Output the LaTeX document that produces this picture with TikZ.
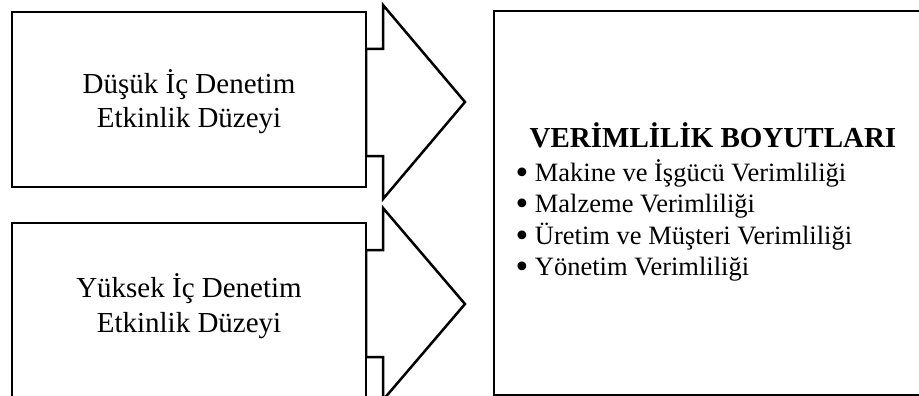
\documentclass[tikz,border=0pt]{standalone}
\usepackage{fontspec}
\setmainfont{Liberation Serif}
\newfontfamily\symfont{DejaVu Sans}
\newcommand{\bigbul}{\raisebox{-2pt}{\symfont\fontsize{30}{30}\selectfont •}}
\begin{document}
\begin{tikzpicture}[x=1pt,y=-1pt,line width=2.5pt,
  boxstyle/.style={draw,fill=white,inner sep=0pt,outer sep=0pt,anchor=north west},
  arrowstyle/.style={draw,fill=white,line join=miter},
  lbl/.style={font=\fontsize{29}{34}\selectfont,anchor=base,inner sep=0pt},
  itemstyle/.style={font=\fontsize{26.5}{32}\selectfont,anchor=base west,inner sep=0pt,text height=19pt,text depth=5pt},
  titlestyle/.style={font=\bfseries\fontsize{29}{34}\selectfont,anchor=base,inner sep=0pt}]
\useasboundingbox (0,0) rectangle (919,396);
\clip (0,0) rectangle (919,396);
% arrows
\draw[arrowstyle] (366,49) -- (383,49) -- (383,5) -- (465,102) -- (383,199) -- (383,156) -- (366,156) -- cycle;
\draw[arrowstyle] (366,250) -- (383,250) -- (383,208) -- (465,304) -- (383,400) -- (383,357) -- (366,357) -- cycle;
% boxes
\node[boxstyle,minimum width=354pt,minimum height=175pt] (b1) at (12,12) {};
\node[boxstyle,minimum width=354pt,minimum height=200pt] (b2) at (12,223) {};
\node[boxstyle,minimum width=430pt,minimum height=384pt] (b3) at (494,11) {};
% texts
\node[lbl] (t1a) at (189,94) {Düşük İç Denetim};
\node[lbl] (t1b) at (189,128) {Etkinlik Düzeyi};
\node[lbl] (t2a) at (189,297) {Yüksek İç Denetim};
\node[lbl] (t2b) at (189,332) {Etkinlik Düzeyi};
\node[titlestyle] (title) at (713,147) {VERİMLİLİK BOYUTLARI};
\node[itemstyle] (i1) at (512,181) {\bigbul\hspace{0.15em}Makine ve İşgücü Verimliliği};
\node[itemstyle] (i2) at (512,212) {\bigbul\hspace{0.15em}Malzeme Verimliliği};
\node[itemstyle] (i3) at (512,244) {\bigbul\hspace{0.15em}Üretim ve Müşteri Verimliliği};
\node[itemstyle] (i4) at (512,275) {\bigbul\hspace{0.15em}Yönetim Verimliliği};
\end{tikzpicture}
\end{document}
